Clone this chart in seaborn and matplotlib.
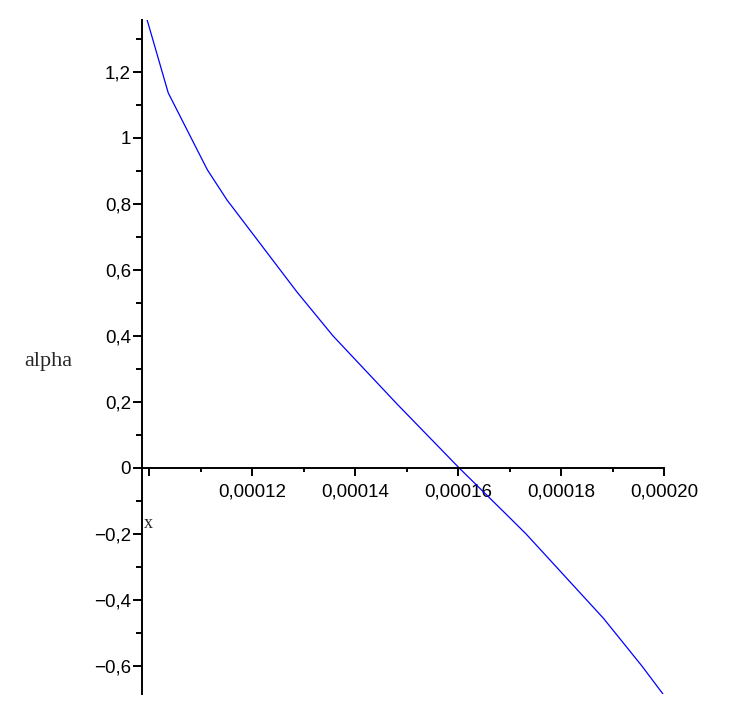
import numpy as np
import pandas as pd
import matplotlib
matplotlib.use('Agg')
import matplotlib.pyplot as plt
import seaborn as sns

BLUE = '#0000FF'

# points (x, alpha)
x_vals = [0.0000996, 0.0001037, 0.0001113, 0.0001151, 0.0001287, 0.0001357,
          0.0001483, 0.0001602, 0.0001701, 0.0001732, 0.0001882, 0.0001957,
          0.0001998]
alpha_vals = [1.357, 1.136, 0.903, 0.812, 0.533, 0.4,
              0.191, 0.0, -0.152, -0.2, -0.455, -0.6,
              -0.685]

x_ticks = [0.00010, 0.00012, 0.00014, 0.00016, 0.00018, 0.00020]
x_labels = ['', '0,00012', '0,00014', '0,00016', '0,00018', '0,00020']
y_ticks = [-0.6, -0.4, -0.2, 0.0, 0.2, 0.4, 0.6, 0.8, 1.0, 1.2]
y_labels = ['\u22120,6', '\u22120,4', '\u22120,2', '0', '0,2', '0,4', '0,6', '0,8', '1', '1,2']

sns.set_theme(style='white')
plt.rcParams['font.family'] = ['Liberation Sans', 'DejaVu Sans']

df = pd.DataFrame({'x': x_vals, 'alpha': alpha_vals})

fig = plt.figure(figsize=(7.36, 7.26), dpi=100)
W, H = 736, 726
ax = fig.add_axes([142 / W, (H - 694) / H, (664 - 142) / W, (694 - 20) / H])

sns.lineplot(data=df, x='x', y='alpha', color=BLUE, linewidth=0.9, ax=ax)

ax.set_xlim(0.0000986, 0.0002)
ax.set_ylim(-0.685, 1.357)

ax.spines['top'].set_visible(False)
ax.spines['right'].set_visible(False)
ax.spines['bottom'].set_position(('data', 0))
for s in ('left', 'bottom'):
    ax.spines[s].set_color('black')
    ax.spines[s].set_linewidth(1.4)

ax.set_xticks(x_ticks)
ax.set_xticklabels(x_labels)
ax.set_xticks(np.arange(0.00011, 0.0002, 0.00002), minor=True)
ax.set_yticks(y_ticks)
ax.set_yticklabels(y_labels)
ax.set_yticks(np.arange(-0.5, 1.35, 0.2), minor=True)

ax.tick_params(axis='both', which='both', direction='out', width=1.4,
               colors='black', bottom=True, left=True)
ax.tick_params(axis='y', which='major', length=6.5, labelsize=13.5, pad=1.5)
ax.tick_params(axis='y', which='minor', length=4.3)
ax.tick_params(axis='x', which='major', length=6, labelsize=13.5, pad=5)
ax.tick_params(axis='x', which='minor', length=3)

ax.set_xlabel('x', fontsize=13, family=['Liberation Serif'])
ax.xaxis.set_label_coords(0.012, 0.265)
ax.xaxis.label.set_va('top')

ax.set_ylabel('alpha', fontsize=16, family=['Liberation Serif'], rotation=0)
ax.yaxis.set_label_coords(-0.180, 0.494)
ax.yaxis.label.set_va('center')
ax.yaxis.label.set_ha('center')

ax.grid(False)

fig.savefig('out.png', dpi=100)
